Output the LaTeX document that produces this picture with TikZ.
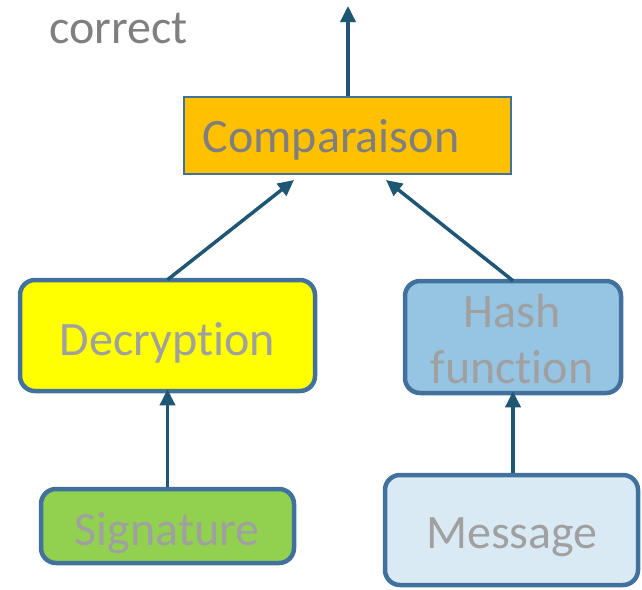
\documentclass[tikz,border=0pt]{standalone}
\usepackage{fontspec}
\setmainfont[Ligatures=NoCommon]{Carlito}
\usetikzlibrary{arrows.meta}
\definecolor{edgeblue}{HTML}{41719C}
\definecolor{arrowblue}{HTML}{1F5673}
\definecolor{txtdark}{HTML}{7F7F7F}
\definecolor{txtlight}{HTML}{A0A0A0}
\definecolor{fillorange}{HTML}{FFC000}
\definecolor{fillyellow}{HTML}{FFFF00}
\definecolor{fillblue}{HTML}{95C5E3}
\definecolor{fillgreen}{HTML}{92D050}
\definecolor{fillpale}{HTML}{DAEAF4}
\tikzset{
  box/.style={draw=edgeblue, line width=4.5pt, rounded corners=15pt, inner sep=0pt},
  lbl/.style={text=txtlight, anchor=base, inner sep=0pt, font=\fontsize{48}{56}\selectfont},
  flow/.style={draw=arrowblue, line width=3.5pt, -{Triangle[length=16pt,width=15pt]}},
}
\begin{document}
\begin{tikzpicture}[x=1pt,y=-1pt]
\useasboundingbox (0,0) rectangle (642,589);
% result box at the top
\node[draw=edgeblue, line width=1.5pt, fill=fillorange, minimum width=327pt, minimum height=77pt, inner sep=0pt]
  (cmp) at (347.5,135.5) {};
\node[lbl, text=txtdark] (cmptext) at (331,152) {Comparaison};
\node[lbl, text=txtdark, anchor=base west] (res) at (49,43) {correct};
\coordinate (out) at (348,6);
% processing boxes
\node[box, fill=fillyellow, minimum width=295pt, minimum height=111pt] (dec) at (167.5,335.5) {};
\node[lbl] (dectext) at (167.5,355) {Decryption};
\node[box, fill=fillblue, minimum width=216pt, minimum height=112pt] (hash) at (513,337) {};
\node[lbl] (hashtext1) at (512,327) {Hash};
\node[lbl] (hashtext2) at (512,383) {function};
% inputs
\node[box, fill=fillgreen, minimum width=253pt, minimum height=74pt] (sig) at (167.5,526) {};
\node[lbl] (sigtext) at (167,545) {Signature};
\node[box, fill=fillpale, minimum width=253pt, minimum height=110pt] (msg) at (511.5,530) {};
\node[lbl] (msgtext) at (512,548) {Message};
% connectors
\draw[flow] (cmp.north -| out) -- (out);
\draw[flow] (dec.north) ++(0,2) -- (294,180);
\draw[flow] (hash.north) ++(0,2) -- (386,180);
\draw[flow] (sig.north -| dec.south) -- ([yshift=4pt]dec.south);
\draw[flow] (msg.north -| hash.south) -- ([yshift=4pt]hash.south);
\end{tikzpicture}
\end{document}
